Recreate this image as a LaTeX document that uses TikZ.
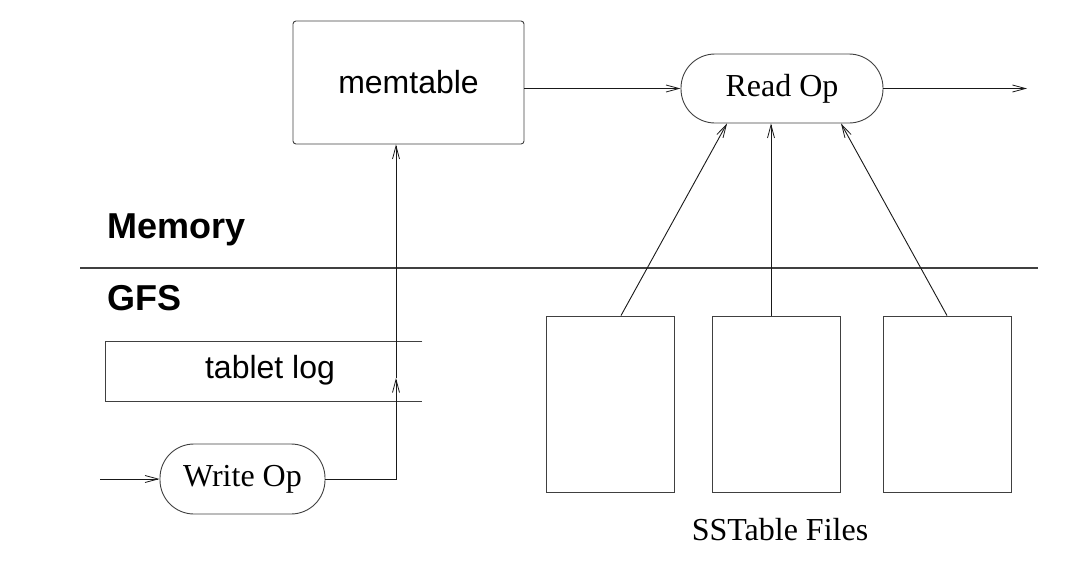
\documentclass[tikz,border=0pt]{standalone}
\usepackage{fontspec}
\setmainfont{Liberation Serif}
\newfontfamily\helv{Liberation Sans}
\usetikzlibrary{arrows.meta,calc}
\begin{document}
\begin{tikzpicture}[x=1pt,y=-1pt,
  line width=0.9pt,
  >={Straight Barb[length=13pt,width=7pt,line width=0.8pt]},
  frame/.style={draw=black!75,rectangle,inner sep=0pt},
  opbox/.style={draw=black!75,rectangle,inner sep=0pt,rounded corners=34pt,
    font=\fontsize{32}{38}\selectfont},
  conn/.style={->,draw=black!90},
  sflabel/.style={font=\helv\fontsize{32}{38}\selectfont,inner sep=0pt},
  layer/.style={font=\helv\bfseries\fontsize{36}{42}\selectfont,inner sep=0pt,anchor=west}]
\useasboundingbox (0,0) rectangle (1066,576);

% memory side
\node[frame,rounded corners=3pt,minimum width=231pt,minimum height=123pt,
  font=\helv\fontsize{32}{38}\selectfont] (mem) at (408.5,82.5) {memtable};
\node[opbox,minimum width=202pt,minimum height=69pt] (read) at (782,88.5) {Read Op};
\coordinate (out) at (1027,88.5);

\node[layer] (memlbl) at (107,230) {Memory};
\node[layer] (gfslbl) at (107,298) {GFS};
\draw[line width=1.8pt,black!75] (80,268) coordinate (rl) -- (1038,268) coordinate (rr);

% GFS side: open-ended tablet log
\node[minimum width=316pt,minimum height=59pt,inner sep=0pt] (tlog) at (264,371.5) {};
\draw[black!75] (tlog.north east) -- (tlog.north west) -- (tlog.south west) -- (tlog.south east);
\node[sflabel] (tlogtxt) at (270,370) {tablet log};

\node[opbox,minimum width=165pt,minimum height=70pt] (write) at (242.5,479) {Write Op};
\coordinate (win) at (100,479);
\coordinate (up) at (396,378);

% SSTable files
\node[frame,minimum width=128pt,minimum height=176pt] (s1) at (610,404) {};
\node[frame,minimum width=128pt,minimum height=176pt] (s2) at (776,404) {};
\node[frame,minimum width=128pt,minimum height=176pt] (s3) at (947,404) {};
\node[font=\fontsize{32}{38}\selectfont,inner sep=0pt] (sslbl) at (780,530) {SSTable Files};

% connectors
\draw[conn] (mem.east |- read.west) -- (read.west);
\draw[conn] (read.east) -- (out);
\draw[conn] (win) -- (write.west);
\draw[conn] (write.east) -- (up |- write.east) -- (up);
\draw[conn] (up) -- (up |- mem.south);
\draw[conn] ($(s1.north)+(11,0)$) -- ($(read.south)+(-55,0)$);
\draw[conn] (s2.north -| 771,0) -- (read.south -| 771,0);
\draw[conn] (s3.north) -- ($(read.south)+(59,0)$);
\end{tikzpicture}
\end{document}
